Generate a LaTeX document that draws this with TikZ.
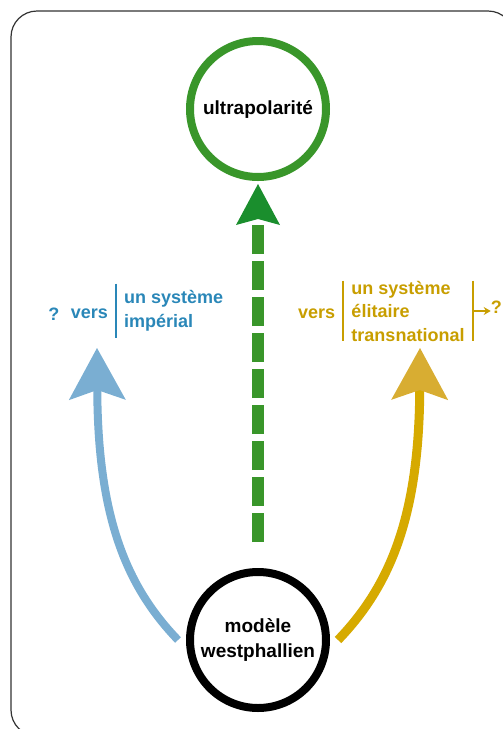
\documentclass[tikz,border=0pt]{standalone}
\usepackage{fontspec}
\setmainfont{Liberation Sans}
\usepackage{tikz}
\usetikzlibrary{arrows.meta}
\usetikzlibrary{positioning}

\definecolor{vertpole}{RGB}{57,150,42}
\definecolor{vertpointe}{RGB}{26,142,45}
\definecolor{bleutrait}{RGB}{122,174,210}
\definecolor{bleutexte}{RGB}{42,135,184}
\definecolor{ortrait}{RGB}{214,170,0}
\definecolor{orpointe}{RGB}{216,173,50}
\definecolor{ortexte}{RGB}{200,158,0}

\tikzset{
	pole/.style={circle, draw, line width=8pt, minimum size=136pt, inner sep=0pt, align=center,
		font=\fontsize{19}{25}\selectfont\bfseries},
	etiq/.style={inner sep=0pt, align=left, font=\fontsize{18}{23.5}\selectfont\bfseries},
	bloc/.style={etiq, inner xsep=8pt},
	pointebleu/.tip={Stealth[length=52pt, width=57pt, inset=10pt, line width=0pt, color=bleutrait]},
	pointeor/.tip={Stealth[length=52pt, width=57pt, inset=10pt, line width=0pt, color=orpointe]}
}

\begin{document}
\begin{tikzpicture}[x=1pt, y=-1pt]
		\useasboundingbox (0,0) rectangle (503,729);
		\clip (0,0) rectangle (503,729);
		\draw[line width=1.2pt, black!80, rounded corners=26pt] (11,11) rectangle (514,736);

		\node[pole, draw=vertpole] (ultra) at (258,109) {ultrapolarit\'e};
		\node[pole, draw=black] (westph) at (258,640) {mod\`ele\\westphallien};

		\draw[line width=12pt, vertpole, dash pattern=on 29pt off 7pt, shorten <=26pt, shorten >=3pt,
			-{Stealth[length=41pt, width=44pt, inset=6pt, line width=0pt, color=vertpointe]}] (westph.north) -- (ultra.south);

		\coordinate (imperialTip) at (97,348);
		\coordinate (elitaireTip) at (420,348);
		\draw[line width=8pt, bleutrait, -pointebleu] ([xshift=-8pt]westph.west) .. controls (125,585) and (98,515) .. (imperialTip);
		\draw[line width=9pt, ortrait, -pointeor] ([xshift=8pt]westph.east) .. controls (391,585) and (419,515) .. (elitaireTip);

		\node[bloc, text=bleutexte, inner ysep=7pt, anchor=west] (imperial) at (116,311) {un syst\`eme\\imp\'erial};
		\draw[line width=2pt, bleutexte] (imperial.north west) -- (imperial.south west);
		\node[etiq, text=bleutexte, left=8pt of imperial, yshift=-3pt] (imperialVers) {vers};
		\node[etiq, text=bleutexte, left=11pt of imperialVers] (imperialQ) {?};

		\node[bloc, text=ortexte, inner ysep=0pt] (elitaire) at (408,311) {un syst\`eme\\\'elitaire\\transnational};
		\draw[line width=2pt, ortexte] (elitaire.north west) -- (elitaire.south west);
		\draw[line width=2pt, ortexte] (elitaire.north east) -- (elitaire.south east);
		\node[etiq, text=ortexte, left=8pt of elitaire, yshift=-3pt] (elitaireVers) {vers};
		\node[etiq, text=ortexte, right=18pt of elitaire, yshift=4pt] (elitaireQ) {?};
		\draw[line width=2pt, ortexte, -{Stealth[length=7pt, width=8pt]}] (elitaire.east) -- (elitaire.east -| elitaireQ.west);
	\end{tikzpicture}
\end{document}
